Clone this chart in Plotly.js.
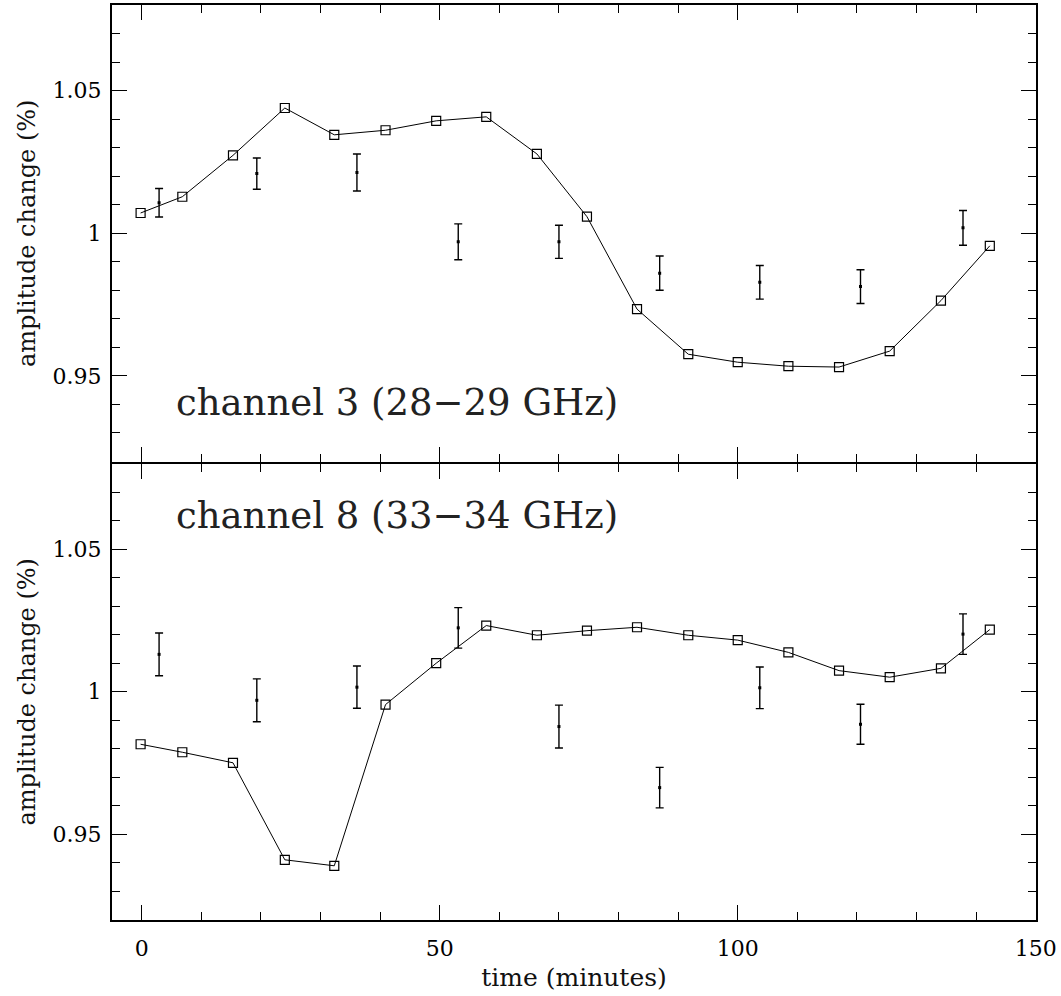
<!DOCTYPE html>
<html>
<head>
<meta charset="utf-8">
<script src="https://cdn.plot.ly/plotly-3.0.1.min.js"></script>
<style>html,body{margin:0;padding:0;background:#fff;}#chart{width:1061px;height:996px;}</style>
</head>
<body>
<div id="chart"></div>
<script>
// Model (squares joined by line): time in minutes
const modelTime = [-0.2, 6.8, 15.3, 24.0, 32.3, 40.9, 49.4, 57.8, 66.3, 74.7, 83.1, 91.7, 100.0, 108.5, 117.0, 125.5, 134.1, 142.3];
const ch3Model = [1.0071, 1.0128, 1.0273, 1.0439, 1.0345, 1.0361, 1.0394, 1.0408, 1.0278, 1.0058, 0.9734, 0.9576, 0.9548, 0.9534, 0.9531, 0.9587, 0.9764, 0.9956];
const ch8Model = [0.9816, 0.9788, 0.9751, 0.9411, 0.9390, 0.9955, 1.0100, 1.0232, 1.0198, 1.0214, 1.0226, 1.0198, 1.0181, 1.0138, 1.0074, 1.0051, 1.0082, 1.0218];

// Measurements with error bars
const obsTime = [2.9, 19.3, 36.1, 53.1, 70.0, 86.9, 103.7, 120.6, 137.8];
const ch3Obs = [1.0107, 1.0209, 1.0213, 0.9970, 0.9970, 0.9860, 0.9828, 0.9813, 1.0019];
const ch3Err = [0.0050, 0.0055, 0.0065, 0.0063, 0.0058, 0.0060, 0.0059, 0.0059, 0.0061];
const ch8Obs = [1.0131, 0.9970, 1.0016, 1.0224, 0.9878, 0.9664, 1.0014, 0.9886, 1.0202];
const ch8Err = [0.0075, 0.0075, 0.0074, 0.0071, 0.0075, 0.0071, 0.0073, 0.0070, 0.0071];

const panelLabels = ["channel 3 (28\u221229 GHz)", "channel 8 (33\u221234 GHz)"];
const xTitle = "time (minutes)";
const yTitle = "amplitude change (%)";

const serif = "DejaVu Serif, Liberation Serif, serif";
const gap = 1 / 915;

function modelTrace(y, xa, ya) {
  return {x: modelTime, y: y, xaxis: xa, yaxis: ya, type: 'scatter', mode: 'lines+markers',
    line: {color: 'black', width: 1},
    marker: {symbol: 'square-open', size: 9, color: 'black', line: {width: 1.2, color: 'black'}},
    hoverinfo: 'x+y', showlegend: false};
}
function obsTrace(y, e, xa, ya) {
  return {x: obsTime, y: y, xaxis: xa, yaxis: ya, type: 'scatter', mode: 'markers',
    marker: {symbol: 'square', size: 3, color: 'black'},
    error_y: {type: 'data', array: e, visible: true, color: 'black', thickness: 1.4, width: 4},
    hoverinfo: 'x+y', showlegend: false};
}

const data = [
  modelTrace(ch3Model, 'x2', 'y'), obsTrace(ch3Obs, ch3Err, 'x2', 'y'),
  modelTrace(ch8Model, 'x', 'y2'), obsTrace(ch8Obs, ch8Err, 'x', 'y2')
];

function yAxis(domain, anchor) {
  return {
    domain: domain, anchor: anchor, range: [0.92, 1.08],
    tick0: 0.95, dtick: 0.05, ticks: 'inside', ticklen: 15, tickwidth: 1, tickcolor: 'black',
    minor: {dtick: 0.01, tick0: 0.92, ticks: 'inside', ticklen: 8, tickwidth: 1, tickcolor: 'black'},
    showline: true, linecolor: 'black', linewidth: 2, mirror: 'ticks',
    showgrid: false, zeroline: false,
    tickfont: {family: serif, size: 22, color: 'black'},
    ticklabelstandoff: 4,
    title: {text: yTitle, font: {family: serif, size: 24, color: '#111'}, standoff: 10}
  };
}
function xAxis(extra) {
  return Object.assign({
    range: [-5, 150.05], tick0: 0, dtick: 50,
    ticks: 'inside', ticklen: 15, tickwidth: 1, tickcolor: 'black',
    minor: {dtick: 10, tick0: 0, ticks: 'inside', ticklen: 8, tickwidth: 1, tickcolor: 'black'},
    showline: true, linecolor: 'black', linewidth: 2, mirror: 'ticks',
    showgrid: false, zeroline: false,
    tickfont: {family: serif, size: 22, color: 'black'}
  }, extra);
}

const layout = {
  width: 1061, height: 996,
  margin: {l: 112, r: 25, t: 5, b: 76},
  paper_bgcolor: 'white', plot_bgcolor: 'white',
  showlegend: false,
  xaxis: xAxis({anchor: 'y2', ticklabelstandoff: 8,
    title: {text: xTitle, font: {family: serif, size: 25, color: '#111'}, standoff: 8}}),
  xaxis2: xAxis({anchor: 'y', matches: 'x', showticklabels: false}),
  yaxis: yAxis([0.5 + gap, 1], 'x2'),
  yaxis2: yAxis([0, 0.5 - gap], 'x'),
  annotations: [
    {text: panelLabels[0], xref: 'x2', yref: 'y', x: 5.4, y: 0.9406, xanchor: 'left', yanchor: 'middle',
     showarrow: false, font: {family: serif, size: 37, color: '#222'}},
    {text: panelLabels[1], xref: 'x', yref: 'y2', x: 5.4, y: 1.0618, xanchor: 'left', yanchor: 'middle',
     showarrow: false, font: {family: serif, size: 37, color: '#222'}}
  ]
};

Plotly.newPlot('chart', data, layout, {displayModeBar: false, staticPlot: true});
</script>
</body>
</html>
